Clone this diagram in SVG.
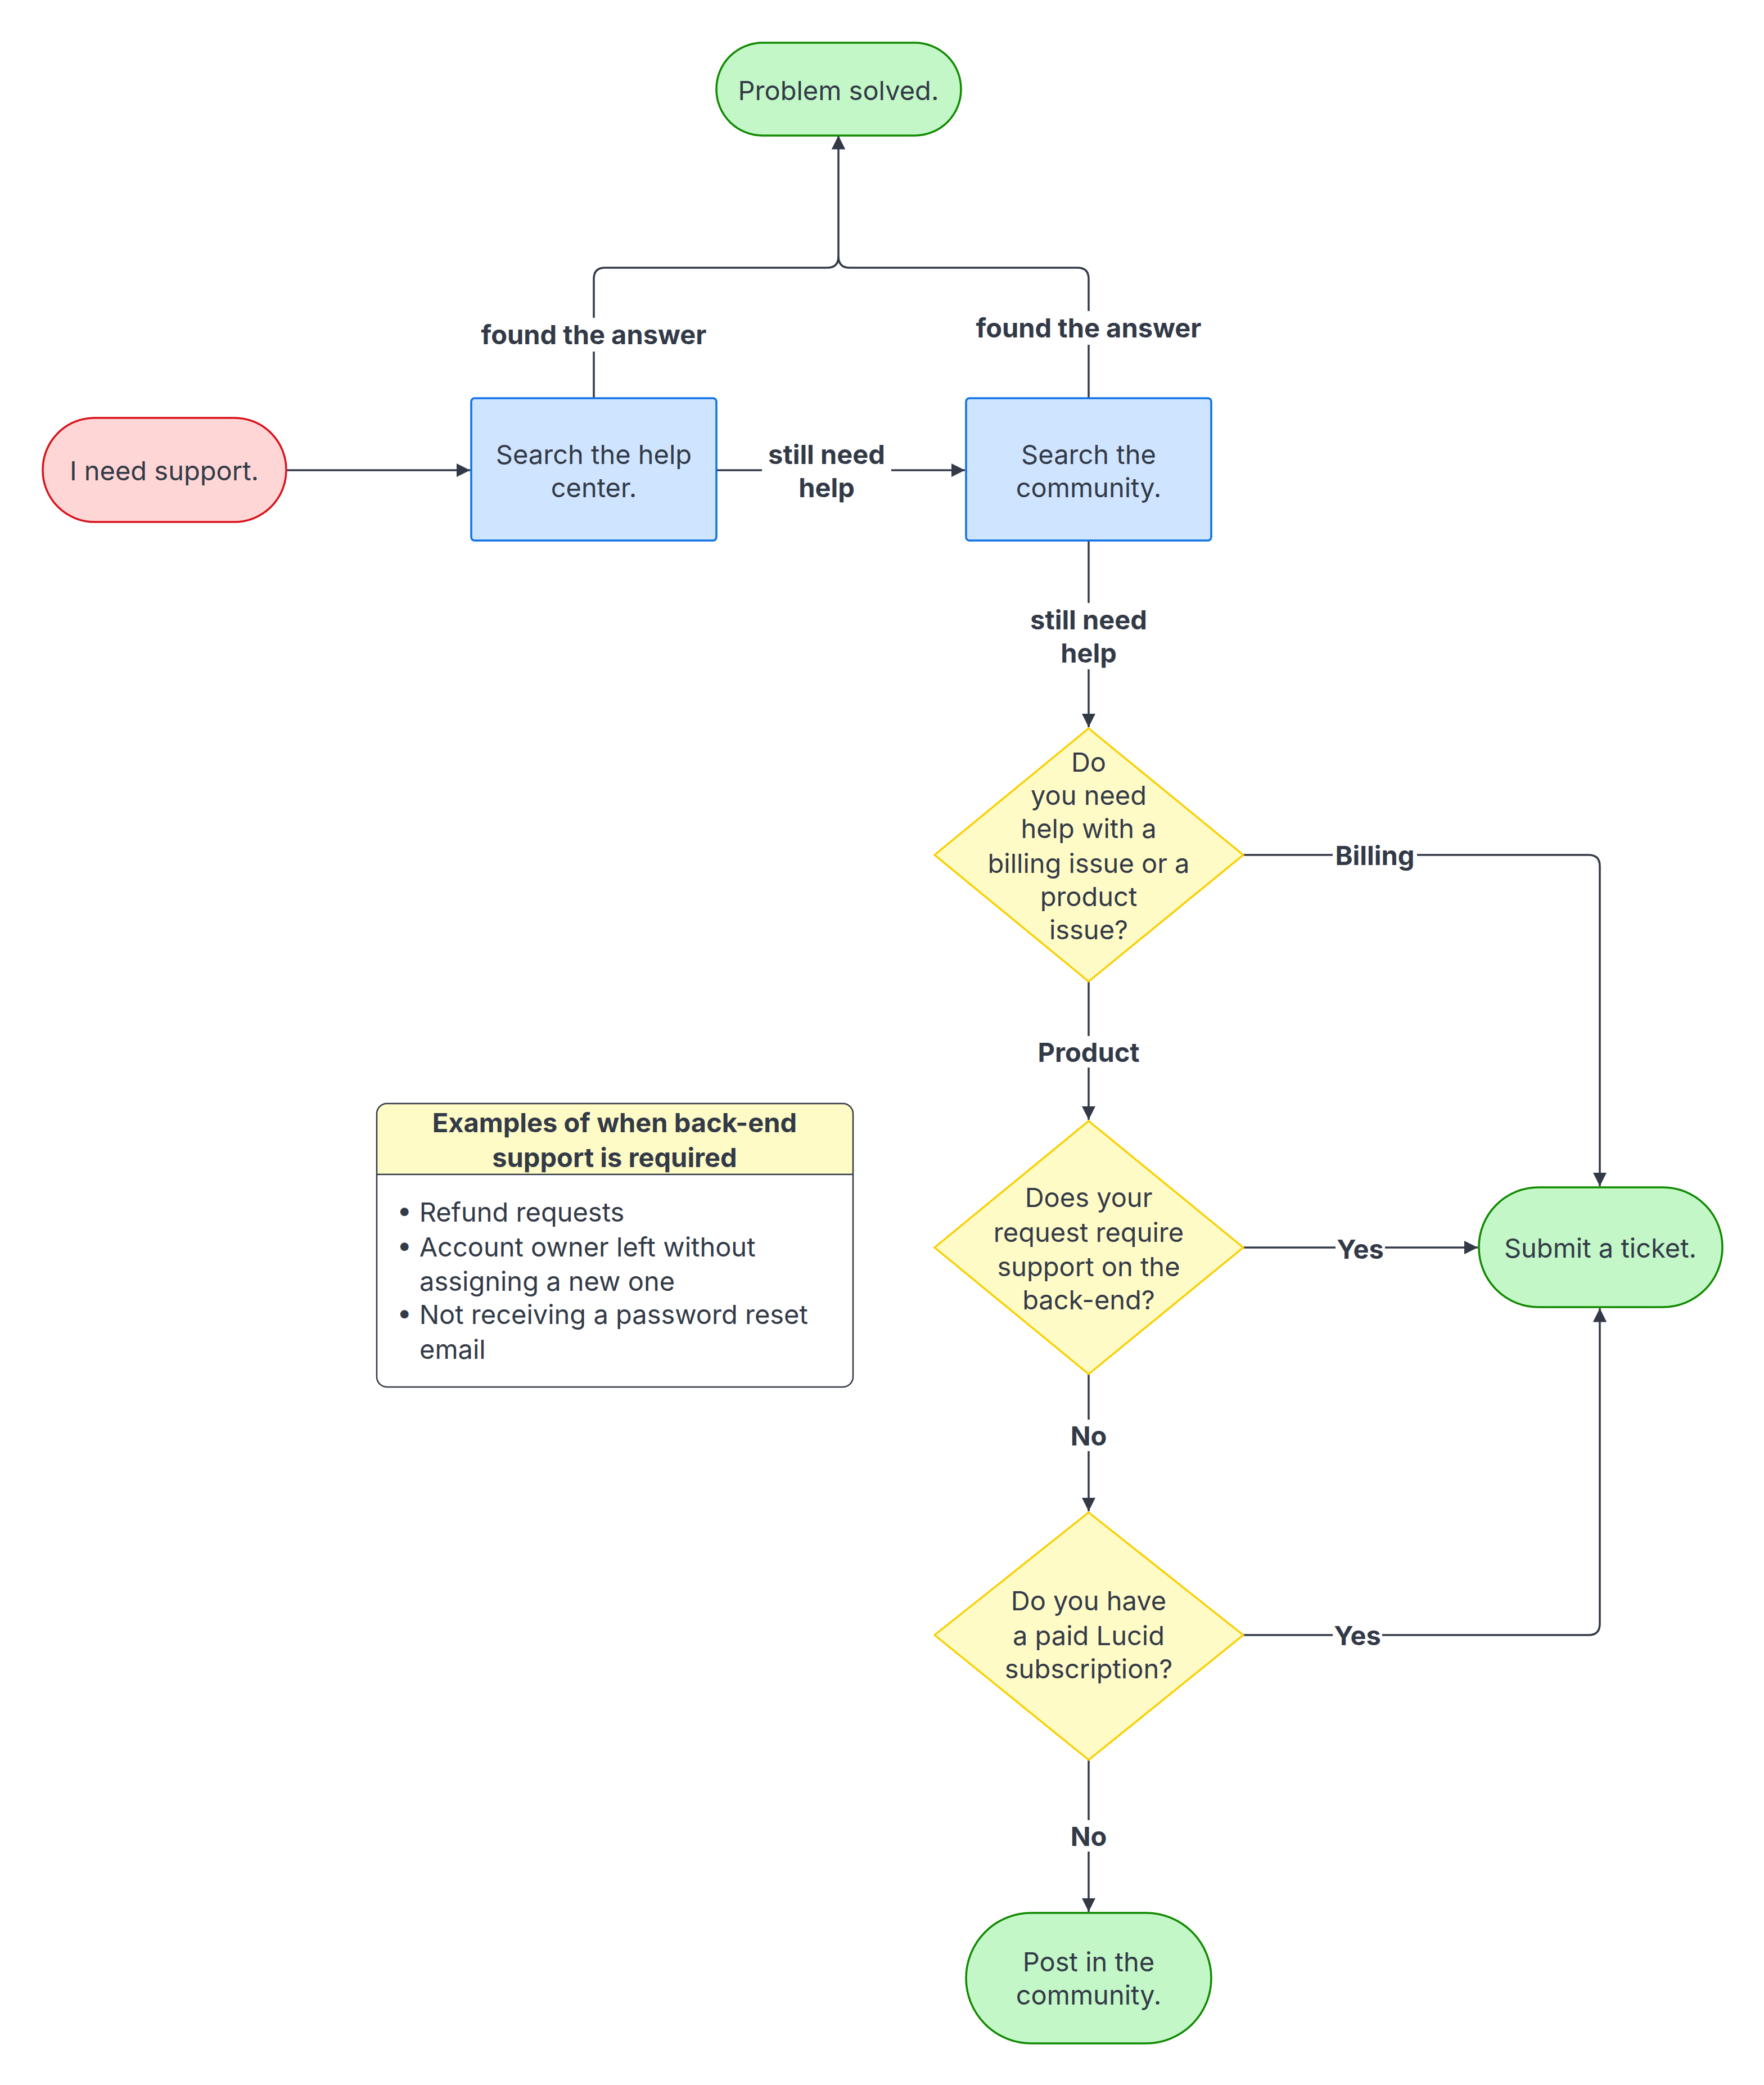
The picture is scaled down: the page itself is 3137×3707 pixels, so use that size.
<svg xmlns="http://www.w3.org/2000/svg" width="3137" height="3707" viewBox="0 0 3137 3707">
<style>
text{font-family:Inter,"Liberation Sans",sans-serif;font-size:47px;fill:#333a47;text-anchor:middle;dominant-baseline:central}
.b{font-weight:bold}
.l{text-anchor:start}
.c{fill:none;stroke:#333a47;stroke-width:3.5}
</style>
<defs><marker id="a" viewBox="0 0 10 10" refX="10" refY="5" markerWidth="7" markerHeight="7" markerUnits="strokeWidth" orient="auto"><path d="M0,0L10,5L0,10z" fill="#333a47"/></marker></defs>
<rect width="3137" height="3707" fill="#fff"/>
<g id="connectors">
<path class="c" d="M1056,708V496q0,-20 20,-20H1471q20,0 20,-20V241" marker-end="url(#a)"/>
<path class="c" d="M1936,708V496q0,-20 -20,-20H1511q-20,0 -20,-20"/>
<path class="c" d="M509,836H836" marker-end="url(#a)"/>
<path class="c" d="M1274,836H1716" marker-end="url(#a)"/>
<path class="c" d="M1936,961V1293" marker-end="url(#a)"/>
<path class="c" d="M2211,1520H2825q20,0 20,20V2109" marker-end="url(#a)"/>
<path class="c" d="M1936,1745V1991" marker-end="url(#a)"/>
<path class="c" d="M2211,2218H2628" marker-end="url(#a)"/>
<path class="c" d="M1936,2443V2687" marker-end="url(#a)"/>
<path class="c" d="M2211,2907H2825q20,0 20,-20V2326" marker-end="url(#a)"/>
<path class="c" d="M1936,3129V3399" marker-end="url(#a)"/>
<g class="b">
<rect x="830" y="565" width="452" height="60" fill="#fff"/><text class="b" x="1056" y="594">found the answer</text>
<rect x="1710" y="553" width="452" height="60" fill="#fff"/><text class="b" x="1936" y="582">found the answer</text>
<rect x="1355" y="780" width="230" height="115" fill="#fff"/><text class="b" x="1470" y="807">still need</text><text class="b" x="1470" y="866">help</text>
<rect x="1820" y="1072" width="232" height="118" fill="#fff"/><text class="b" x="1936" y="1101">still need</text><text class="b" x="1936" y="1160">help</text>
<rect x="2370" y="1492" width="150" height="56" fill="#fff"/><text class="b" x="2445" y="1520">Billing</text>
<rect x="1836" y="1842" width="200" height="56" fill="#fff"/><text class="b" x="1936" y="1870">Product</text>
<rect x="2375" y="2192" width="88" height="56" fill="#fff"/><text class="b" x="2419" y="2220">Yes</text>
<rect x="1896" y="2524" width="80" height="56" fill="#fff"/><text class="b" x="1936" y="2552">No</text>
<rect x="2370" y="2879" width="88" height="56" fill="#fff"/><text class="b" x="2414" y="2907">Yes</text>
<rect x="1896" y="3236" width="80" height="56" fill="#fff"/><text class="b" x="1936" y="3264">No</text>
</g>
</g>
<g id="solved"><rect x="1274" y="76" width="435" height="165" rx="82" fill="#c3f7c8" stroke="#108a00" stroke-width="3.5"/><text x="1491" y="160">Problem solved.</text></g>
<g id="support"><rect x="76" y="743" width="433" height="185" rx="92" fill="#ffd6d6" stroke="#d9121a" stroke-width="3.5"/><text x="292" y="836">I need support.</text></g>
<g id="help"><rect x="838" y="708" width="436" height="253" rx="6" fill="#cfe4ff" stroke="#1071e5" stroke-width="3.5"/><text x="1056" y="807">Search the help</text><text x="1056" y="866">center.</text></g>
<g id="community"><rect x="1718" y="708" width="436" height="253" rx="6" fill="#cfe4ff" stroke="#1071e5" stroke-width="3.5"/><text x="1936" y="807">Search the</text><text x="1936" y="866">community.</text></g>
<g id="d1"><path d="M1936,1295L2211,1520L1936,1745L1662,1520z" fill="#fffbc7" stroke="#fad000" stroke-width="3.5" stroke-linejoin="round"/>
<text x="1936" y="1354">Do</text><text x="1936" y="1413">you need</text><text x="1936" y="1472">help with a</text><text x="1936" y="1534">billing issue or a</text><text x="1936" y="1593">product</text><text x="1936" y="1652">issue?</text></g>
<g id="d2"><path d="M1936,1993L2211,2218L1936,2443L1662,2218z" fill="#fffbc7" stroke="#fad000" stroke-width="3.5" stroke-linejoin="round"/>
<text x="1936" y="2128">Does your</text><text x="1936" y="2190">request require</text><text x="1936" y="2251">support on the</text><text x="1936" y="2310">back-end?</text></g>
<g id="d3"><path d="M1936,2689L2211,2907L1936,3129L1662,2907z" fill="#fffbc7" stroke="#fad000" stroke-width="3.5" stroke-linejoin="round"/>
<text x="1936" y="2845">Do you have</text><text x="1936" y="2907">a paid Lucid</text><text x="1936" y="2966">subscription?</text></g>
<g id="ticket"><rect x="2630" y="2111" width="433" height="213" rx="106" fill="#c3f7c8" stroke="#108a00" stroke-width="3.5"/><text x="2846" y="2218">Submit a ticket.</text></g>
<g id="post"><rect x="1718" y="3401" width="436" height="232" rx="116" fill="#c3f7c8" stroke="#108a00" stroke-width="3.5"/><text x="1936" y="3487">Post in the</text><text x="1936" y="3546">community.</text></g>
<g id="note">
<path d="M670,2088V1980q0,-18 18,-18H1499q18,0 18,18V2088z" fill="#fffbc7"/>
<rect x="670" y="1962" width="847" height="504" rx="18" fill="none" stroke="#333a47" stroke-width="2.5"/>
<line x1="670" y1="2088" x2="1517" y2="2088" stroke="#333a47" stroke-width="2.5"/>
<text class="b" x="1093" y="1995">Examples of when back-end</text><text class="b" x="1093" y="2057">support is required</text>
<text class="l" x="706" y="2154">• Refund requests</text>
<text class="l" x="706" y="2216">• Account owner left without</text>
<text class="l" x="746" y="2277">assigning a new one</text>
<text class="l" x="706" y="2336">• Not receiving a password reset</text>
<text class="l" x="746" y="2398">email</text>
</g>
</svg>
